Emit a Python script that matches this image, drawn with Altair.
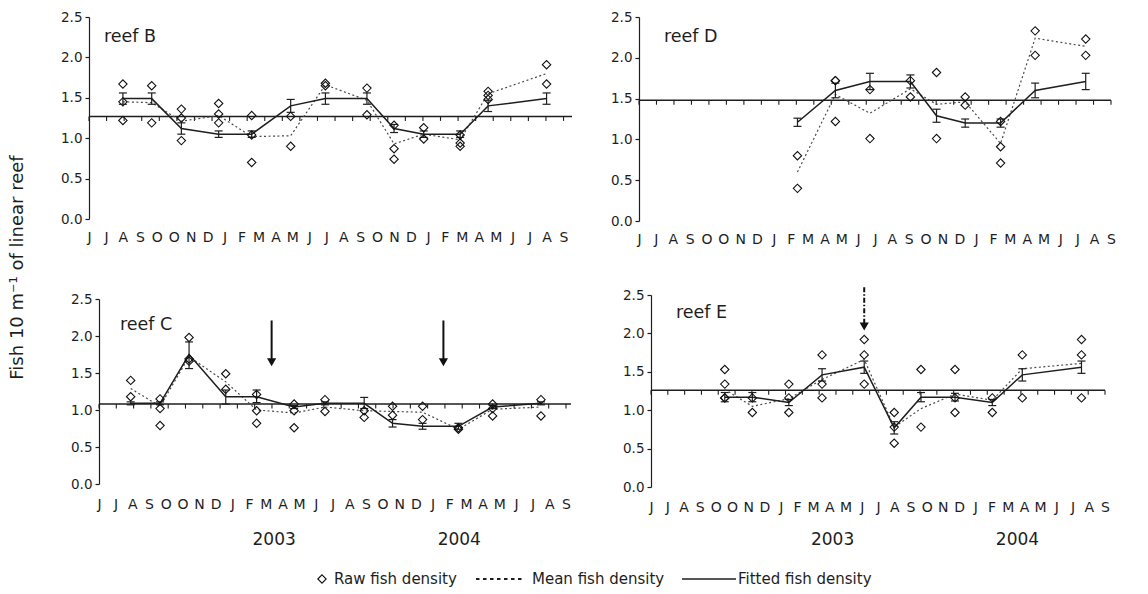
import json
import altair as alt
import pandas as pd

FONT = "DejaVu Sans"
INK = "#1e1e1e"

MONTHS = ["J", "J", "A", "S", "O", "O", "N", "D", "J", "F", "M", "A", "M", "J", "J",
          "A", "S", "O", "N", "D", "J", "F", "M", "A", "M", "J", "J", "A", "S"]

# ---------------- reef B ----------------
B_X = [2.0, 3.7, 5.45, 7.65, 9.6, 11.9, 13.95, 16.4, 18.0, 19.75, 21.9, 23.55, 27.0]
B_RAW = [[1.67, 1.45, 1.22], [1.65, 1.19], [1.36, 1.25, 0.97], [1.43, 1.30, 1.19],
         [1.28, 1.04, 0.70], [1.27, 0.90], [1.68, 1.65], [1.62, 1.29],
         [1.16, 0.87, 0.74], [1.13, 0.99], [1.04, 0.94, 0.90], [1.58, 1.53, 1.48],
         [1.91, 1.67]]
B_MEAN = [1.45, 1.44, 1.21, 1.28, 1.02, 1.03, 1.66, 1.47, 0.93, 1.05, 0.98, 1.55, 1.80]
B_FIT = [1.49, 1.49, 1.12, 1.05, 1.05, 1.40, 1.49, 1.49, 1.12, 1.05, 1.05, 1.40, 1.49]
B_ERR = [0.07, 0.07, 0.07, 0.04, 0.04, 0.08, 0.07, 0.07, 0.05, 0.04, 0.04, 0.07, 0.07]
B_REF = 1.27

# ---------------- reef D ----------------
D_X = [9.4, 11.65, 13.7, 16.1, 17.65, 19.35, 21.45, 23.5, 26.5]
D_RAW = [[0.80, 0.40], [1.72, 1.72, 1.22], [1.61, 1.01], [1.72, 1.52], [1.82, 1.01],
         [1.52, 1.42], [1.22, 0.91, 0.71], [2.33, 2.03], [2.23, 2.03]]
D_MEAN = [0.60, 1.55, 1.32, 1.62, 1.43, 1.46, 0.95, 2.24, 2.14]
D_FIT = [1.21, 1.60, 1.71, 1.71, 1.29, 1.20, 1.20, 1.60, 1.71]
D_ERR = [0.05, 0.09, 0.10, 0.08, 0.08, 0.05, 0.05, 0.09, 0.10]
D_REF = 1.48

# ---------------- reef C ----------------
C_X = [1.9, 3.66, 5.4, 7.6, 9.45, 11.7, 13.55, 15.9, 17.6, 19.4, 21.55, 23.6, 26.5]
C_RAW = [[1.40, 1.18], [1.15, 1.02, 0.79], [1.98, 1.69, 1.66], [1.49, 1.28],
         [1.21, 0.99, 0.82], [1.08, 0.99, 0.76], [1.14, 0.98], [0.99, 0.90],
         [1.05, 0.93], [1.05, 0.87], [0.76, 0.74], [1.08, 1.02, 0.92], [1.14, 0.92]]
C_MEAN = [1.29, 1.05, 1.72, 1.38, 1.00, 0.96, 1.04, 0.99, 0.98, 0.97, 0.74, 1.01, 1.04]
C_FIT = [1.09, 1.09, 1.75, 1.18, 1.18, 1.04, 1.09, 1.09, 0.82, 0.78, 0.78, 1.04, 1.09]
C_LO = [1.07, 1.07, 1.56, 1.08, 1.10, 1.02, 1.07, 1.02, 0.77, 0.74, 0.74, 1.02, 1.07]
C_HI = [1.11, 1.11, 1.92, 1.27, 1.27, 1.06, 1.11, 1.17, 0.87, 0.82, 0.82, 1.06, 1.11]
C_REF = 1.08
C_ARROW_X = [10.35, 20.65]
C_ARROW_TOP = [2.21, 2.21]
C_ARROW_HEAD = [1.645, 1.645]

# ---------------- reef E ----------------
E_X = [4.55, 6.25, 8.5, 10.55, 13.15, 15.0, 16.65, 18.75, 21.05, 22.9, 26.55]
E_RAW = [[1.53, 1.34, 1.16, 1.16], [1.16, 0.97], [1.34, 1.16, 0.97], [1.72, 1.34, 1.16],
         [1.92, 1.72, 1.34], [0.97, 0.78, 0.57], [1.53, 0.78], [1.53, 1.16, 0.97],
         [1.16, 0.97], [1.72, 1.16], [1.92, 1.72, 1.16]]
E_MEAN = [1.27, 1.05, 1.15, 1.40, 1.66, 0.78, 1.02, 1.21, 1.13, 1.54, 1.61]
E_FIT = [1.17, 1.17, 1.10, 1.46, 1.56, 0.77, 1.17, 1.17, 1.10, 1.46, 1.56]
E_ERR = [0.06, 0.06, 0.04, 0.08, 0.08, 0.08, 0.06, 0.05, 0.04, 0.08, 0.08]
E_REF = 1.26
E_ARROW_X = [13.15]
E_ARROW_TOP = [2.60]
E_ARROW_HEAD = [2.09]

YEARS = ["2003", "2004"]
C_YEAR_X = [10.5, 21.6]
E_YEAR_X = [11.2, 22.6]

Y_TICKS = [0.0, 0.5, 1.0, 1.5, 2.0, 2.5]
N_TICKS = 28


def panel(name, xs, raws, means, fits, los, his, ref, xmax, w, h,
          lab_x, lab_y, label_pad, x0=0, y0=0,
          arrows=None, arrow_dash=None, year_x=None, year_y=None):
    # x0 / y0 shift the plotting rectangle inside the cell (layout only)
    xsc = alt.Scale(domain=[0, xmax], range=[x0, w], nice=False, zero=False)
    ysc = alt.Scale(domain=[0, 2.5], range=[h, y0], nice=False)
    xax = alt.Axis(values=list(range(len(MONTHS))),
                   labelExpr=json.dumps(MONTHS) + "[datum.value]",
                   domain=False, ticks=False, tickSize=0, grid=False,
                   labelPadding=label_pad, labelFont=FONT, labelFontSize=14,
                   labelColor=INK, labelOverlap=False, labelFlush=False,
                   labelBound=False, title=None)
    yax_kw = dict(values=Y_TICKS, format=".1f", domain=True, domainColor=INK,
                  domainWidth=1.2, ticks=True, tickSize=4, tickColor=INK,
                  tickWidth=1.2, grid=False, labelPadding=3, labelFont=FONT,
                  labelFontSize=13.5, labelColor=INK, title=None, labelFlush=False)
    if x0:
        yax_kw["offset"] = -x0
    yax = alt.Axis(**yax_kw)

    def X(f):
        return alt.X(f, type="quantitative", scale=xsc, axis=xax)

    def Y(f):
        return alt.Y(f, type="quantitative", scale=ysc, axis=yax)

    pts = pd.DataFrame([{"x": x, "v": v} for x, vals in zip(xs, raws) for v in vals])
    ser = pd.DataFrame({"x": xs, "mean": means, "fit": fits, "lo": los, "hi": his})
    ref_df = pd.DataFrame({"x": [0.0], "x2": [xmax], "y": [ref]})
    tick_df = pd.DataFrame({"x": [k * 28 / 27 for k in range(N_TICKS)],
                            "y": [ref] * N_TICKS})
    lab_df = pd.DataFrame({"x": [lab_x], "y": [lab_y], "t": [name]})

    layers = [
        alt.Chart(ref_df).mark_rule(color=INK, strokeWidth=1.5).encode(
            x=X("x"), x2="x2", y=Y("y")),
        alt.Chart(tick_df).mark_tick(orient="vertical", size=4.5, thickness=1.1,
                                     yOffset=2.25, color=INK, opacity=1).encode(
            x=X("x"), y=Y("y")),
        alt.Chart(ser).mark_line(color="#4a4a4a", strokeWidth=1.2,
                                 strokeDash=[2, 2.5]).encode(x=X("x"), y=Y("mean")),
        alt.Chart(ser).mark_line(color=INK, strokeWidth=1.5).encode(
            x=X("x"), y=Y("fit")),
        alt.Chart(ser).mark_rule(color=INK, strokeWidth=1.2).encode(
            x=X("x"), y=Y("lo"), y2="hi"),
        alt.Chart(ser).mark_tick(orient="horizontal", size=8, thickness=1.2,
                                 color=INK, opacity=1).encode(x=X("x"), y=Y("lo")),
        alt.Chart(ser).mark_tick(orient="horizontal", size=8, thickness=1.2,
                                 color=INK, opacity=1).encode(x=X("x"), y=Y("hi")),
        alt.Chart(pts).mark_point(shape="diamond", size=70, filled=False, color="#111",
                                  strokeWidth=1.1, opacity=1).encode(
            x=X("x"), y=Y("v")),
        alt.Chart(lab_df).mark_text(align="left", baseline="middle", font=FONT,
                                    fontSize=17.5, color=INK).encode(
            x=X("x"), y=Y("y"), text="t"),
    ]
    if arrows is not None:
        ax_, top_, head_ = arrows
        arr = pd.DataFrame({"x": ax_, "top": top_, "head": head_})
        rule_kw = dict(color="#111", strokeWidth=2)
        if arrow_dash is not None:
            rule_kw["strokeDash"] = arrow_dash
        layers.append(alt.Chart(arr).mark_rule(**rule_kw).encode(
            x=X("x"), y=Y("top"), y2="head"))
        layers.append(alt.Chart(arr).mark_point(shape="triangle-down", size=85,
                                                filled=True, color="#111",
                                                opacity=1).encode(
            x=X("x"), y=Y("head")))
    if year_x is not None:
        yr = pd.DataFrame({"x": year_x, "t": YEARS})
        layers.append(alt.Chart(yr).mark_text(align="center", baseline="middle",
                                              font=FONT, fontSize=17,
                                              color=INK).encode(
            x=X("x"), y=alt.value(year_y), text="t"))
    return alt.layer(*layers).properties(width=w, height=h)


pB = panel("reef B", B_X, B_RAW, B_MEAN, B_FIT,
           [f - e for f, e in zip(B_FIT, B_ERR)], [f + e for f, e in zip(B_FIT, B_ERR)],
           B_REF, 28.5, 483, 202, 0.88, 2.25, 11)
pD = panel("reef D", D_X, D_RAW, D_MEAN, D_FIT,
           [f - e for f, e in zip(D_FIT, D_ERR)], [f + e for f, e in zip(D_FIT, D_ERR)],
           D_REF, 28.0, 472, 204, 1.48, 2.25, 11)
pC = panel("reef C", C_X, C_RAW, C_MEAN, C_FIT, C_LO, C_HI,
           C_REF, 28.3, 482, 185, 1.26, 2.15, 13, x0=10,
           arrows=(C_ARROW_X, C_ARROW_TOP, C_ARROW_HEAD),
           year_x=C_YEAR_X, year_y=241)
pE = panel("reef E", E_X, E_RAW, E_MEAN, E_FIT,
           [f - e for f, e in zip(E_FIT, E_ERR)], [f + e for f, e in zip(E_FIT, E_ERR)],
           E_REF, 28.0, 454, 188, 1.54, 2.27, 13, y0=-4,
           arrows=(E_ARROW_X, E_ARROW_TOP, E_ARROW_HEAD), arrow_dash=[5, 2, 1.5, 2],
           year_x=E_YEAR_X, year_y=241)

one = pd.DataFrame({"a": [0]})
LEG_Y = 10
legend = alt.layer(
    alt.Chart(one).mark_point(shape="diamond", size=70, filled=False, color="#111",
                              strokeWidth=1.1, opacity=1).encode(
        x=alt.value(233), y=alt.value(LEG_Y)),
    alt.Chart(one).mark_text(align="left", baseline="middle", font=FONT, fontSize=15,
                             color=INK).encode(
        x=alt.value(245), y=alt.value(LEG_Y), text=alt.value("Raw fish density")),
    alt.Chart(one).mark_rule(color=INK, strokeWidth=2, strokeDash=[3.5, 3.5]).encode(
        x=alt.value(387), x2=alt.value(435), y=alt.value(LEG_Y)),
    alt.Chart(one).mark_text(align="left", baseline="middle", font=FONT, fontSize=15,
                             color=INK).encode(
        x=alt.value(443), y=alt.value(LEG_Y), text=alt.value("Mean fish density")),
    alt.Chart(one).mark_rule(color=INK, strokeWidth=1.3).encode(
        x=alt.value(593), x2=alt.value(647), y=alt.value(LEG_Y)),
    alt.Chart(one).mark_text(align="left", baseline="middle", font=FONT, fontSize=15,
                             color=INK).encode(
        x=alt.value(649), y=alt.value(LEG_Y), text=alt.value("Fitted fish density")),
).properties(width=1000, height=20)

row1 = alt.hconcat(pB, pD, spacing=37)
row2 = alt.hconcat(pC, pE, spacing=50)
panels = alt.vconcat(row1, row2, spacing=40)

chart = alt.vconcat(panels, legend, spacing=21).properties(
    title=alt.TitleParams("Fish 10 m\u207b\u00b9 of linear reef", orient="left",
                          anchor="middle", font=FONT, fontSize=18,
                          fontWeight="normal", color=INK, offset=33.5, dx=32),
    padding={"left": 9, "top": 10, "right": 5, "bottom": 2},
).configure_view(stroke=None)

chart.save("out.html", embed_options={"renderer": "svg", "actions": False})
